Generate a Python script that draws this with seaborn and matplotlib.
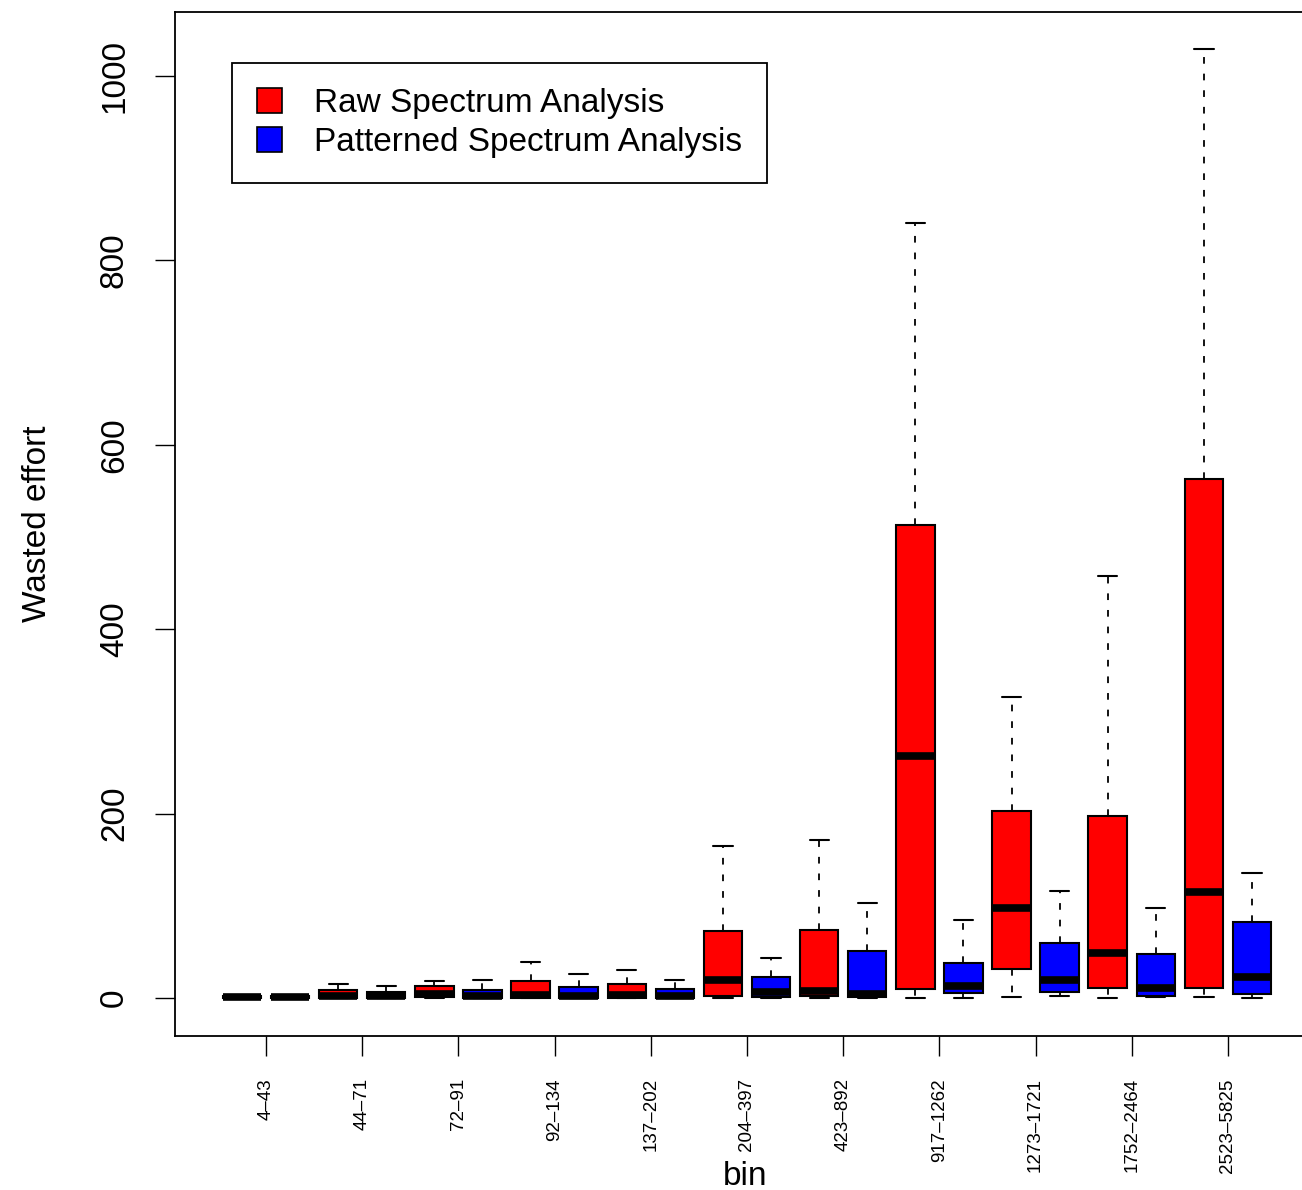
import pandas as pd
import matplotlib
matplotlib.use("Agg")
import matplotlib.pyplot as plt
from matplotlib.patches import Patch
import seaborn as sns

bins = ["4–43", "44–71", "72–91", "92–134", "137–202", "204–397",
        "423–892", "917–1262", "1273–1721", "1752–2464", "2523–5825"]
methods = ["Raw Spectrum Analysis", "Patterned Spectrum Analysis"]

# five-number summaries: low, q1, median, q3, high
raw = [
    [0, 0, 1, 2, 2],
    [0, 0, 2, 9, 15],
    [0, 1, 4, 13, 18],
    [0, 0, 3, 18, 39],
    [0, 0, 3, 15, 30],
    [0, 2, 20, 73, 165],
    [0, 2, 8, 74, 171],
    [0, 10, 262, 513, 841],
    [1, 31, 98, 203, 326],
    [0, 11, 49, 197, 458],
    [1, 11, 115, 563, 1029],
]
patterned = [
    [0, 0, 1, 2, 2],
    [0, 0, 2, 6, 13],
    [0, 0, 2, 9, 20],
    [0, 0, 2, 12, 26],
    [0, 0, 2, 10, 20],
    [0, 1, 7, 23, 43],
    [0, 1, 4, 51, 103],
    [0, 5, 13, 38, 85],
    [2, 7, 20, 60, 116],
    [1, 2, 11, 48, 98],
    [0, 4, 23, 82, 136],
]

rows = []
for b, r, p in zip(bins, raw, patterned):
    for v in r:
        rows.append((b, methods[0], v))
    for v in p:
        rows.append((b, methods[1], v))
df = pd.DataFrame(rows, columns=["bin", "method", "effort"])

sns.set_style("white")
plt.rcParams["font.family"] = ["Liberation Sans", "DejaVu Sans"]
plt.rcParams["text.color"] = "black"
plt.rcParams["axes.labelcolor"] = "black"
plt.rcParams["xtick.color"] = "black"
plt.rcParams["ytick.color"] = "black"

fig = plt.figure(figsize=(13.02, 11.9), dpi=100)
ax = fig.add_axes([175 / 1302, 154 / 1190, 1141 / 1302, 1024 / 1190])

colors = {methods[0]: "#ff0000", methods[1]: "#0000ff"}
sns.boxplot(
    data=df, x="bin", y="effort", hue="method", order=bins, hue_order=methods,
    palette=colors, whis=(0, 100), width=1.0, gap=0.2, showfliers=False,
    linecolor="black", linewidth=1.5, saturation=1, legend=False, ax=ax,
    medianprops={"linewidth": 5.5, "color": "black", "solid_capstyle": "butt"},
    whiskerprops={"linestyle": (0, (3.7, 5.5)), "linewidth": 1.3},
    capprops={"linewidth": 1.5},
)

ax.set_xlim(-0.946, 10.915)
ax.set_ylim(-41.2, 1069.4)
ax.set_yticks([0, 200, 400, 600, 800, 1000])

for s in ax.spines.values():
    s.set_visible(True)
    s.set_color("black")
    s.set_linewidth(1.3)

ax.tick_params(axis="y", direction="out", length=14.4, width=1.0, pad=18,
               labelsize=24, labelrotation=90, left=True, colors="black")
for lab in ax.get_yticklabels():
    lab.set_va("center")
ax.tick_params(axis="x", direction="out", length=14.4, width=1.0, pad=16,
               labelsize=13.5, labelrotation=90, bottom=True, colors="black")

ax.set_ylabel("Wasted effort", fontsize=24, color="black")
ax.yaxis.set_label_coords(-0.107, 0.5)
ax.set_xlabel("bin", fontsize=24, color="black")
ax.xaxis.set_label_coords(0.5, -0.122)

handles = [Patch(facecolor=colors[m], edgecolor="black", linewidth=1.2, label=m)
           for m in methods]
leg = ax.legend(
    handles=handles, loc="upper left", bbox_to_anchor=(232 / 1302, 1 - 63 / 1190),
    bbox_transform=fig.transFigure, fontsize=24, frameon=True, fancybox=False,
    edgecolor="black", framealpha=1, borderpad=0.75, borderaxespad=0,
    handlelength=0.75, handleheight=0.75, handletextpad=0.95, labelspacing=0.25,
    labelcolor="black",
)
leg.get_frame().set_linewidth(1.3)

fig.savefig("out.png", dpi=100)
